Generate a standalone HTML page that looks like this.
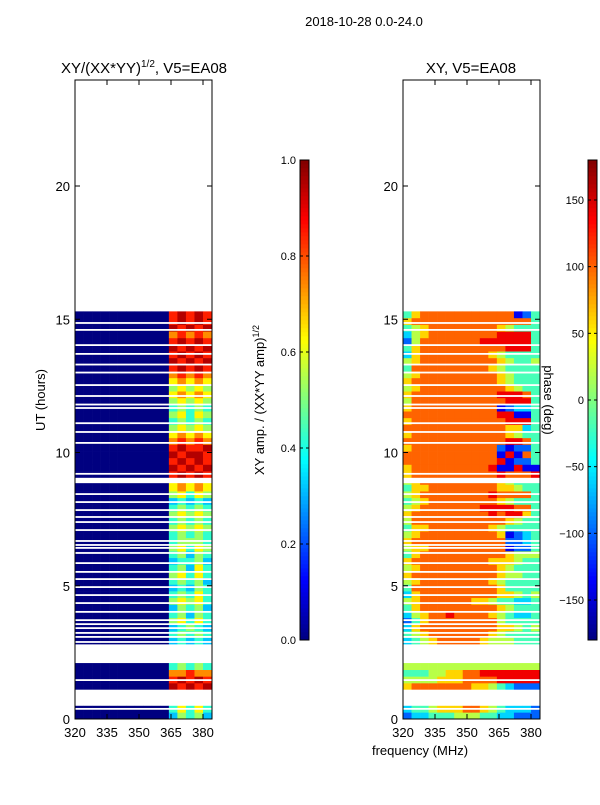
<!DOCTYPE html>
<html><head><meta charset="utf-8"><style>
body{margin:0;background:#fff;font-family:"Liberation Sans",sans-serif}
svg text{font-family:"Liberation Sans",sans-serif;fill:#000}
</style></head><body>
<svg id="s" width="600" height="800" xmlns="http://www.w3.org/2000/svg">
<text x="364" y="26" font-size="13" text-anchor="middle">2018-10-28 0.0-24.0</text>
<text x="144" y="73" font-size="15" text-anchor="middle">XY/(XX*YY)<tspan font-size="10" dy="-6">1/2</tspan><tspan dy="6">, V5=EA08</tspan></text>
<text x="471" y="73" font-size="15" text-anchor="middle">XY, V5=EA08</text>
<text x="420" y="755" font-size="13" text-anchor="middle">frequency (MHz)</text>
<text transform="translate(45,400) rotate(-90)" font-size="13" text-anchor="middle">UT (hours)</text>
<text transform="translate(264,400) rotate(-90)" font-size="13" text-anchor="middle">XY amp. / (XX*YY amp)<tspan font-size="9" dy="-5">1/2</tspan></text>
<g id="left"></g>
<g id="right"></g>
<g id="axes"></g>
<text transform="translate(544,400) rotate(90)" font-size="13" text-anchor="middle">phase (deg)</text>
</svg>
<script>
const times=[0,0.25,1.1,1.35,1.6,1.85,2.8,3.05,3.3,3.55,3.8,4.05,4.3,4.55,4.8,5.05,5.3,5.55,5.8,6.05,6.3,6.55,6.8,7.05,7.3,7.55,7.8,8.05,8.3,8.55,8.8,9.05,9.3,9.55,9.8,10.05,10.3,10.55,10.8,11.05,11.3,11.55,11.8,12.05,12.3,12.55,12.8,13.05,13.3,13.55,13.8,14.05,14.3,14.55,14.8,15.05];
const ampTails=["35453","46464","98989","89898","77877","45454","34343","45454","34543","56464","45354","35453","56564","45464","34354","45453","56464","45364","34453","45354","56465","45554","45454","56565","45454","56565","45454","34343","56465","67676","67676","89898","98989","89898","98998","89889","78787","67676","56565","45454","56465","45454","56565","67676","56565","67676","78787","89898","98989","89898","98989","89898","78787","98989","89898","89898"];
const phaseRows=["2334445554433222","3445666776543332","6777777766543222","5555666777788888","4445566778888888","5555555555555555","3456777776555444","4567777777654444","3677777777766545","2467777777754444","3567787777654334","4677777777765444","5677777766544334","3677777777766545","4777777777764444","5677777777654444","6777777777765544","5677777777765444","6777777777666544","4677777777776555","5667777777771224","6777777777772234","5677777777761234","4667777777654444","5777777777776544","6777777777878864","5677777778888774","4567777777765444","5677777777877774","4667777777766544","5677777777765444","6777777777787778","6777777777811811","7777777777781224","7777777777718174","6777777777721224","7777777777778874","6777777777776544","7777777777776634","6777777777778884","7777777777788114","6777777777712334","5777777777778884","6777777777788874","5677777777776544","6777777777765444","5677777777765444","4777777777654444","5677777777765445","3677777777654444","4677777777778884","2577777778888884","3567777777788884","4567777777765444","6777777777777774","4677777777777124"];
const freqs=[320,324,328,332,336,340,344,348,352,356,360,364,368,372,376,380];
const gapLines=[14.86,14.6,14.03,13.7,13.3,13.0,12.53,12.12,11.8,11.67,11.1,10.77,10.36,9.2,8.44,8.14,7.84,7.58,7.39,7.09,6.68,6.53,6.42,6.23,5.85,5.52,5.25,4.95,4.65,4.35,4.02,3.71,3.56,3.41,3.23,3.08,2.89,1.46,0.38];
const bigGaps=[[0.5,1.1],[2.1,2.8],[8.85,9.05],[15.3,24]];
const yTicks=[0,5,10,15,20];
const xTicks=[320,335,350,365,380];
const ampTicks=[0,0.2,0.4,0.6,0.8,1.0];
const phTicks=[-150,-100,-50,0,50,100,150];
const NS="http://www.w3.org/2000/svg";
const yS=t=>719-t*26.65;
const xL=f=>75+(f-320)*32/15, xR=f=>403+(f-320)*32/15;
function jet(v){v=Math.max(0,Math.min(1,v));const c=x=>Math.round(255*Math.max(0,Math.min(1,1.5-Math.abs(4*v-x))));return `rgb(${c(3)},${c(2)},${c(1)})`;}
function mk(tag,attrs,parent){const e=document.createElementNS(NS,tag);for(const k in attrs)e.setAttribute(k,attrs[k]);parent.appendChild(e);return e;}
const L=document.getElementById('left'),R=document.getElementById('right'),A=document.getElementById('axes');
times.forEach((t,i)=>{
  const amp="00000000000"+ampTails[i];
  const y0=yS(Math.min(t+0.25,15.3)),h=yS(t)-y0;
  freqs.forEach((f,j)=>{
    const a=mk('rect',{x:xL(f),y:y0,width:xL(f+4)-xL(f)+0.3,height:h+0.3,fill:jet(parseInt(amp[j])/9*0.95)},L);
    
    
    const ph=-180+parseInt(phaseRows[i][j])*40;
    const p=mk('rect',{x:xR(f),y:y0,width:xR(f+4)-xR(f)+0.3,height:h+0.3,fill:jet((ph+180)/360)},R);
    
    
  });
});
[[L,xL],[R,xR]].forEach(([g,xs])=>{
  gapLines.forEach(t=>{const r=mk('rect',{x:xs(320),y:yS(t)-0.9,width:137,height:1.8,fill:'#fff'},g);
    
    });
  bigGaps.forEach(([a,b])=>{const r=mk('rect',{x:xs(320),y:yS(b),width:137,height:yS(a)-yS(b),fill:'#fff'},g);
    
    });
});
[75,403].forEach((x0,k)=>{
  mk('rect',{x:x0,y:80,width:137,height:639,fill:'none',stroke:'#000','stroke-width':1},A);
  const xs=k?xR:xL;
  yTicks.forEach(t=>{const y=yS(t);mk('line',{x1:x0,x2:x0+5,y1:y,y2:y,stroke:'#000'},A);mk('line',{x1:x0+137,x2:x0+132,y1:y,y2:y,stroke:'#000'},A);
    const tx=mk('text',{x:x0-5,y:y+5,'font-size':13,'text-anchor':'end'},A);tx.textContent=t;
    
    });
  xTicks.forEach(f=>{const x=xs(f);mk('line',{x1:x,x2:x,y1:719,y2:714,stroke:'#000'},A);mk('line',{x1:x,x2:x,y1:80,y2:85,stroke:'#000'},A);
    const tx=mk('text',{x:x,y:737,'font-size':13,'text-anchor':'middle'},A);tx.textContent=f;
    
    });
});
function cbar(x0,ticks,min,max,fmt){
  for(let i=0;i<120;i++){mk('rect',{x:x0,y:640-(i+1)*4,width:9,height:4.3,fill:jet((i+0.5)/120)},A);}
  mk('rect',{x:x0,y:160,width:9,height:480,fill:'none',stroke:'#000'},A);
  ticks.forEach(v=>{const y=640-(v-min)/(max-min)*480;mk('line',{x1:x0,x2:x0+3,y1:y,y2:y,stroke:'#000'},A);mk('line',{x1:x0+9,x2:x0+6,y1:y,y2:y,stroke:'#000'},A);
    const tx=mk('text',{x:x0-4,y:y+4,'font-size':11,'text-anchor':'end'},A);tx.textContent=fmt(v);
    
    });
}
cbar(300,ampTicks,0,1,v=>v.toFixed(1));
cbar(588,phTicks,-180,180,v=>v<0?'\u2212'+(-v):String(v));
</script>
</body></html>
